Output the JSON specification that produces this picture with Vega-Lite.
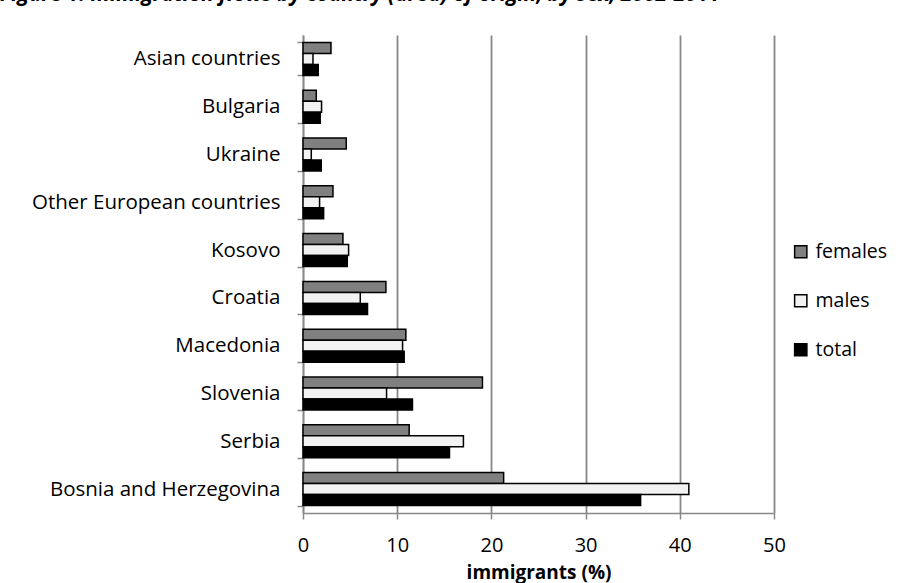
{
  "$schema": "https://vega.github.io/schema/vega-lite/v6.json",
  "autosize": {"type": "none"},
  "padding": {"left": 303, "top": 35, "right": 134, "bottom": 70},
  "width": 471,
  "height": 478,
  "background": "white",
  "title": {
    "text": "Figure 1: Immigration flows by country (area) of origin, by sex, 2002-2011",
    "anchor": "start",
    "frame": "group",
    "dx": -303,
    "offset": 3,
    "baseline": "alphabetic",
    "font": "Open Sans",
    "fontSize": 21,
    "fontWeight": "bold",
    "fontStyle": "italic",
    "color": "black"
  },
  "data": {
    "values": [
      {"country": "Asian countries", "sex": "females", "value": 2.97},
      {"country": "Asian countries", "sex": "males", "value": 1.06},
      {"country": "Asian countries", "sex": "total", "value": 1.62},
      {"country": "Bulgaria", "sex": "females", "value": 1.41},
      {"country": "Bulgaria", "sex": "males", "value": 1.97},
      {"country": "Bulgaria", "sex": "total", "value": 1.83},
      {"country": "Ukraine", "sex": "females", "value": 4.59},
      {"country": "Ukraine", "sex": "males", "value": 0.88},
      {"country": "Ukraine", "sex": "total", "value": 1.94},
      {"country": "Other European countries", "sex": "females", "value": 3.18},
      {"country": "Other European countries", "sex": "males", "value": 1.76},
      {"country": "Other European countries", "sex": "total", "value": 2.19},
      {"country": "Kosovo", "sex": "females", "value": 4.24},
      {"country": "Kosovo", "sex": "males", "value": 4.84},
      {"country": "Kosovo", "sex": "total", "value": 4.70},
      {"country": "Croatia", "sex": "females", "value": 8.8},
      {"country": "Croatia", "sex": "males", "value": 6.08},
      {"country": "Croatia", "sex": "total", "value": 6.85},
      {"country": "Macedonia", "sex": "females", "value": 10.92},
      {"country": "Macedonia", "sex": "males", "value": 10.57},
      {"country": "Macedonia", "sex": "total", "value": 10.74},
      {"country": "Slovenia", "sex": "females", "value": 19.05},
      {"country": "Slovenia", "sex": "males", "value": 8.87},
      {"country": "Slovenia", "sex": "total", "value": 11.62},
      {"country": "Serbia", "sex": "females", "value": 11.27},
      {"country": "Serbia", "sex": "males", "value": 17.03},
      {"country": "Serbia", "sex": "total", "value": 15.55},
      {"country": "Bosnia and Herzegovina", "sex": "females", "value": 21.3},
      {"country": "Bosnia and Herzegovina", "sex": "males", "value": 40.96},
      {"country": "Bosnia and Herzegovina", "sex": "total", "value": 35.84}
    ]
  },
  "mark": {"type": "bar", "stroke": "black", "strokeWidth": 1.5},
  "encoding": {
    "y": {
      "field": "country",
      "type": "nominal",
      "sort": ["Asian countries", "Bulgaria", "Ukraine", "Other European countries", "Kosovo", "Croatia", "Macedonia", "Slovenia", "Serbia", "Bosnia and Herzegovina"],
      "scale": {"paddingInner": 0.31, "paddingOuter": 0.155},
      "axis": {
        "title": null,
        "domainColor": "#888888",
        "domainWidth": 1.5,
        "tickColor": "#888888",
        "tickWidth": 1.5,
        "tickSize": 6,
        "tickBand": "extent",
        "labelPadding": 17,
        "labelFont": "Open Sans",
        "labelFontSize": 20.5,
        "labelColor": "black",
        "labelLimit": 400,
        "grid": false
      }
    },
    "yOffset": {
      "field": "sex",
      "type": "nominal",
      "sort": ["females", "males", "total"],
      "scale": {"paddingInner": 0, "paddingOuter": 0}
    },
    "x": {
      "field": "value",
      "type": "quantitative",
      "scale": {"domain": [0, 50], "nice": false},
      "axis": {
        "title": "immigrants (%)",
        "titleFont": "Open Sans",
        "titleFontSize": 19,
        "titleFontWeight": "bold",
        "titleColor": "black",
        "titlePadding": 8,
        "values": [0, 10, 20, 30, 40, 50],
        "labelFlush": false,
        "domainColor": "#888888",
        "domainWidth": 1.5,
        "tickColor": "#888888",
        "tickWidth": 1.5,
        "tickSize": 6,
        "labelPadding": 16,
        "labelFont": "Open Sans",
        "labelFontSize": 20,
        "labelColor": "black",
        "grid": true,
        "gridColor": "#888888",
        "gridWidth": 1.8
      }
    },
    "fill": {
      "field": "sex",
      "type": "nominal",
      "scale": {"domain": ["females", "males", "total"], "range": ["#808080", "#f2f2f2", "#000000"]},
      "legend": {
        "title": null,
        "orient": "none",
        "legendX": 488,
        "legendY": 207,
        "symbolType": "square",
        "symbolSize": 150,
        "symbolStrokeColor": "black",
        "symbolStrokeWidth": 1.5,
        "labelFont": "Open Sans",
        "labelFontSize": 19.5,
        "labelColor": "black",
        "labelOffset": 5,
        "rowPadding": 28
      }
    }
  },
  "config": {"view": {"stroke": null}}
}
